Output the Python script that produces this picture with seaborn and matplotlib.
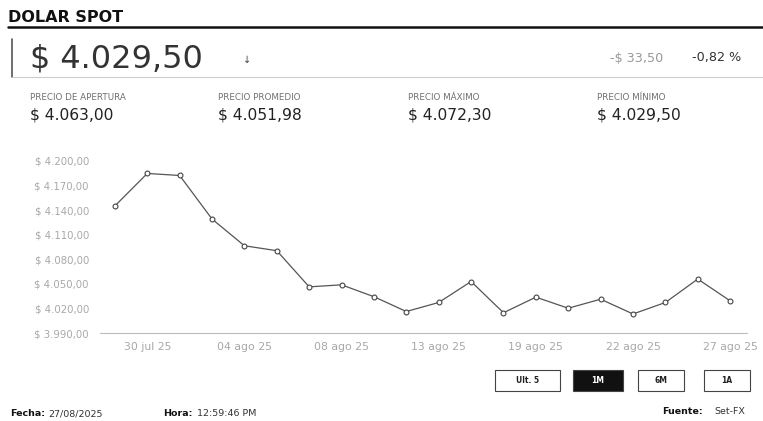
import matplotlib
matplotlib.use("Agg")
import matplotlib.pyplot as plt
import seaborn as sns
import pandas as pd
from matplotlib.patches import Rectangle
from matplotlib.lines import Line2D

sns.set_style("white")
plt.rcParams['font.family'] = ['DejaVu Sans']

# Data
fechas = ["29 jul 25", "30 jul 25", "31 jul 25", "01 ago 25", "04 ago 25", "05 ago 25",
          "06 ago 25", "08 ago 25", "11 ago 25", "12 ago 25", "13 ago 25", "14 ago 25",
          "15 ago 25", "19 ago 25", "20 ago 25", "21 ago 25", "22 ago 25", "25 ago 25",
          "26 ago 25", "27 ago 25"]
precios = [4145.0, 4184.5, 4182.0, 4129.0, 4096.5, 4090.5, 4046.5, 4049.0, 4034.5, 4016.5,
           4027.5, 4053.0, 4015.0, 4034.0, 4020.5, 4031.5, 4013.5, 4027.5, 4056.0, 4029.5]
y_ticks = [3990, 4020, 4050, 4080, 4110, 4140, 4170, 4200]
x_tick_idx = [1, 4, 7, 10, 13, 16, 19]

precio_actual = "$ 4.029,50"
variacion = "-$ 33,50"
variacion_pct = "-0,82 %"
stat_labels = ["PRECIO DE APERTURA", "PRECIO PROMEDIO", "PRECIO MÁXIMO", "PRECIO MÍNIMO"]
stat_values = ["$ 4.063,00", "$ 4.051,98", "$ 4.072,30", "$ 4.029,50"]
botones = ["Ult. 5", "1M", "6M", "1A"]

df = pd.DataFrame({"idx": range(len(precios)), "precio": precios})

W, H = 763, 421
fig = plt.figure(figsize=(W / 100, H / 100), dpi=100)


def fx(x):
    return x / W


def fy(y):
    return 1 - y / H


def money(v):
    s = f"{v:,.2f}"
    return "$ " + s.replace(",", "X").replace(".", ",").replace("X", ".")


# chart
ax = fig.add_axes([fx(100), fy(333.3), fx(747) - fx(100), fy(160.7) - fy(333.3)])
sns.lineplot(data=df, x="idx", y="precio", ax=ax, color="#555555", linewidth=0.9,
             marker="o", markersize=3.5, markerfacecolor="white", markeredgecolor="#444444",
             markeredgewidth=0.8)
ax.set_xlim(-0.46, 19.52)
ax.set_ylim(3990, 4200)
ax.set_yticks(y_ticks)
ax.set_yticklabels([money(v) for v in y_ticks], color="#a8a8a8", fontsize=7.3)
ax.set_xticks(x_tick_idx)
ax.set_xticklabels([fechas[i] for i in x_tick_idx], color="#a8a8a8", fontsize=7.8)
ax.tick_params(axis="y", length=0, pad=8)
ax.tick_params(axis="x", length=3, color="#aaaaaa", direction="in", pad=6)
ax.set_xlabel("")
ax.set_ylabel("")
for s in ["top", "right", "left"]:
    ax.spines[s].set_visible(False)
ax.spines["bottom"].set_color("#bbbbbb")
ax.spines["bottom"].set_linewidth(0.8)

# header
fig.text(fx(8), fy(18), "DOLAR SPOT", fontsize=11.5, fontweight="bold", va="center", color="#111111")
fig.add_artist(Line2D([fx(8), fx(763)], [fy(27), fy(27)], color="#111111", linewidth=1.8,
                      transform=fig.transFigure))
fig.add_artist(Line2D([fx(12), fx(12)], [fy(39), fy(77)], color="#555555", linewidth=1.2,
                      transform=fig.transFigure))
fig.add_artist(Line2D([fx(12), fx(763)], [fy(77), fy(77)], color="#cccccc", linewidth=0.8,
                      transform=fig.transFigure))
fig.text(fx(30), fy(59), precio_actual, fontsize=23, va="center", color="#333333")
fig.text(fx(243), fy(60), "↓", fontsize=7, va="center", color="#444444")
fig.text(fx(610), fy(58), variacion, fontsize=9.2, va="center", color="#999999")
fig.text(fx(692), fy(58), variacion_pct, fontsize=9.2, va="center", color="#333333")

stat_x = [30, 218, 408, 597]
for x, lab, val in zip(stat_x, stat_labels, stat_values):
    fig.text(fx(x), fy(97), lab, fontsize=6.3, va="center", color="#707070")
    fig.text(fx(x), fy(115), val, fontsize=11.2, va="center", color="#222222")

# buttons
bx = [(495, 560), (573, 623), (638, 684), (704, 750)]
for (x0, x1), lab in zip(bx, botones):
    activo = lab == "1M"
    fig.add_artist(Rectangle((fx(x0), fy(391)), fx(x1) - fx(x0), fy(370) - fy(391),
                             transform=fig.transFigure,
                             facecolor="#111111" if activo else "white",
                             edgecolor="#444444", linewidth=0.8))
    fig.text(fx((x0 + x1) / 2), fy(380.5), lab, fontsize=5.5, ha="center", va="center",
             color="white" if activo else "#222222", fontweight="bold")

# footer
fig.text(fx(10), fy(414), "Fecha:", fontsize=6.8, fontweight="bold", va="center", color="#111111")
fig.text(fx(48), fy(414), "27/08/2025", fontsize=6.8, va="center", color="#333333")
fig.text(fx(163), fy(414), "Hora:", fontsize=6.8, fontweight="bold", va="center", color="#111111")
fig.text(fx(197), fy(414), "12:59:46 PM", fontsize=6.8, va="center", color="#333333")
fig.text(fx(662), fy(411), "Fuente:", fontsize=6.8, fontweight="bold", va="center", color="#111111")
fig.text(fx(714), fy(411), "Set-FX", fontsize=6.8, va="center", color="#333333")

fig.savefig("out.png", dpi=100)
